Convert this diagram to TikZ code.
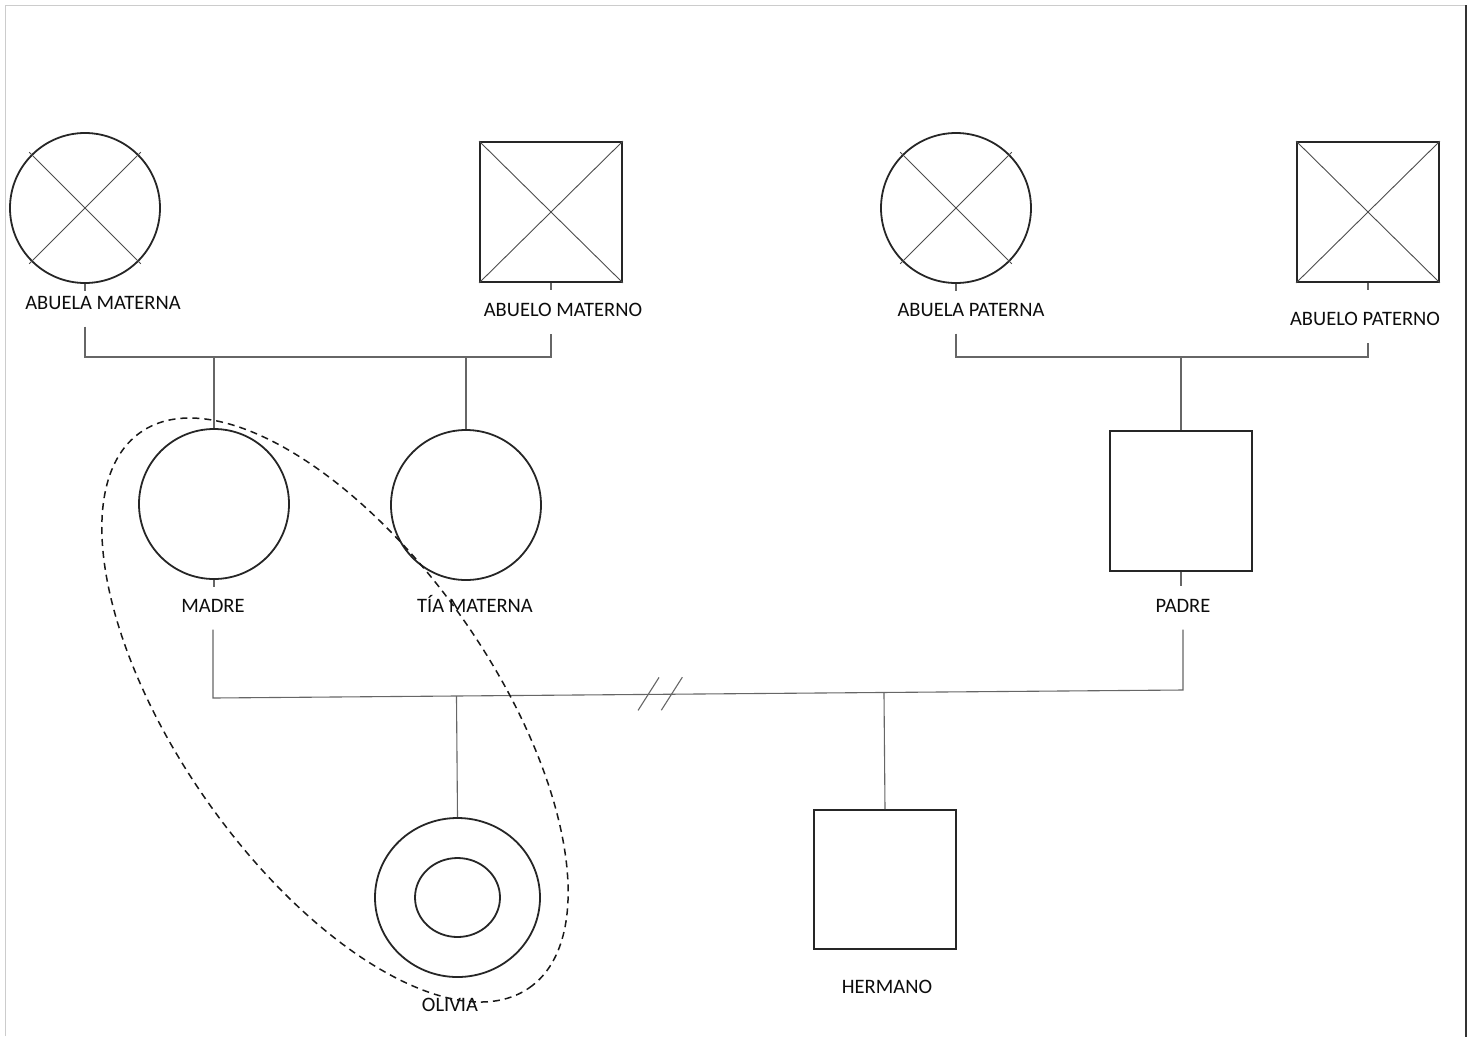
\documentclass[tikz,border=0pt]{standalone}
\usepackage{fontspec}
\setmainfont{Carlito}
\usetikzlibrary{calc,shapes.geometric}

\begin{document}
\begin{tikzpicture}[x=1pt,y=-1pt,
  fem/.style={circle,draw=black!85,line width=1.8pt,minimum size=150pt,inner sep=0pt},
  male/.style={rectangle,draw=black!85,line width=1.8pt,minimum width=142pt,minimum height=140pt,inner sep=0pt},
  lbl/.style={font=\fontsize{20.5}{24}\selectfont,text=black!95,inner sep=0pt,outer sep=17pt,text height=13pt,text depth=0pt},
  link/.style={draw=black!60,line width=1.1pt},
  cross/.style={draw=black!70,line width=0.9pt}]
  \useasboundingbox (0,0) rectangle (1475,1037);
  % Page frame
  \draw[black!20,line width=1pt] (5,1036) -- (5,5) -- (1466,5);
  \draw[black!80,line width=1.5pt] (1466,5) -- (1466,1037);
  % Grandparents (deceased)
  \node[fem] (abm) at (85,208) {};
  \node[male] (abom) at (551,212) {};
  \node[fem] (abp) at (956,208) {};
  \node[male] (abop) at (1368,212) {};
  \foreach \p in {abm,abp} {
    \draw[cross,shorten <=-3pt,shorten >=-3pt] (\p.north west) -- (\p.south east);
    \draw[cross,shorten <=-3pt,shorten >=-3pt] (\p.north east) -- (\p.south west);
  }
  \foreach \p in {abom,abop} {
    \draw[cross] (\p.north west) -- (\p.south east);
    \draw[cross] (\p.north east) -- (\p.south west);
  }
  \foreach \p in {abm,abom,abp,abop}
    \draw[link] (\p.south) -- ++(0,7);
  \node[lbl] (labm) at (103,303) {ABUELA MATERNA};
  \node[lbl] (labom) at (563,310) {ABUELO MATERNO};
  \node[lbl] (labp) at (971,310) {ABUELA PATERNA};
  \node[lbl] (labop) at (1365,319) {ABUELO PATERNO};
  % Couple lines
  \coordinate (mcl) at (0,357);
  \draw[link] (labm.south -| abm) -- (abm |- mcl) -- (abom |- mcl) -- (labom.south -| abom);
  \draw[link] (labp.south -| abp) -- (abp |- mcl) -- (abop |- mcl) -- (labop.south -| abop);
  % Parents generation
  \node[fem] (madre) at (214,504) {};
  \node[fem] (tia) at (466,505) {};
  \node[male] (padre) at (1181,501) {};
  \draw[link] (madre.north) -- (madre |- mcl);
  \draw[link] (tia.north) -- (tia |- mcl);
  \draw[link] (padre.north) -- (padre |- mcl);
  \draw[link] (madre.south) -- ++(0,7);
  \draw[link] (padre.south) -- ++(0,14);
  \node[lbl] (lmadre) at (213,606) {MADRE};
  \node[lbl] (ltia) at (475,606) {TÍA MATERNA};
  \node[lbl] (lpadre) at (1183,606) {PADRE};
  % Divorced couple line
  \coordinate (mk) at (213,698);
  \coordinate (pk) at (1183,690);
  \draw[link] (lmadre.south) -- (mk) -- (pk) -- (lpadre.south);
  \foreach \t in {0.449,0.473}
    \draw[link] ($(mk)!\t!(pk)$) +(10.5,-17) -- +(-10.5,16);
  % Children
  \node[ellipse,draw=black!85,line width=1.8pt,minimum width=165pt,minimum height=159pt,inner sep=0pt] (olivia) at (457.5,897.5) {};
  \node[ellipse,draw=black!85,line width=1.8pt,minimum width=85pt,minimum height=79pt,inner sep=0pt] (oliviain) at (olivia) {};
  \node[male,minimum height=139pt] (hermano) at (885,879.5) {};
  \draw[link] (olivia.north) -- ($(mk)!(olivia.north)!(pk)$);
  \draw[link] (hermano.north) -- ($(mk)!(hermano.north)!(pk)$);
  \node[lbl] (lolivia) at (450,1005) {OLIVIA};
  \node[lbl] (lhermano) at (887,987) {HERMANO};
  % Household
  \draw[black!90,line width=1.5pt,dash pattern=on 7pt off 5pt,rotate around={-55:(335,710)}]
    (335,710) ellipse [x radius=339pt, y radius=157pt];
\end{tikzpicture}
\end{document}
